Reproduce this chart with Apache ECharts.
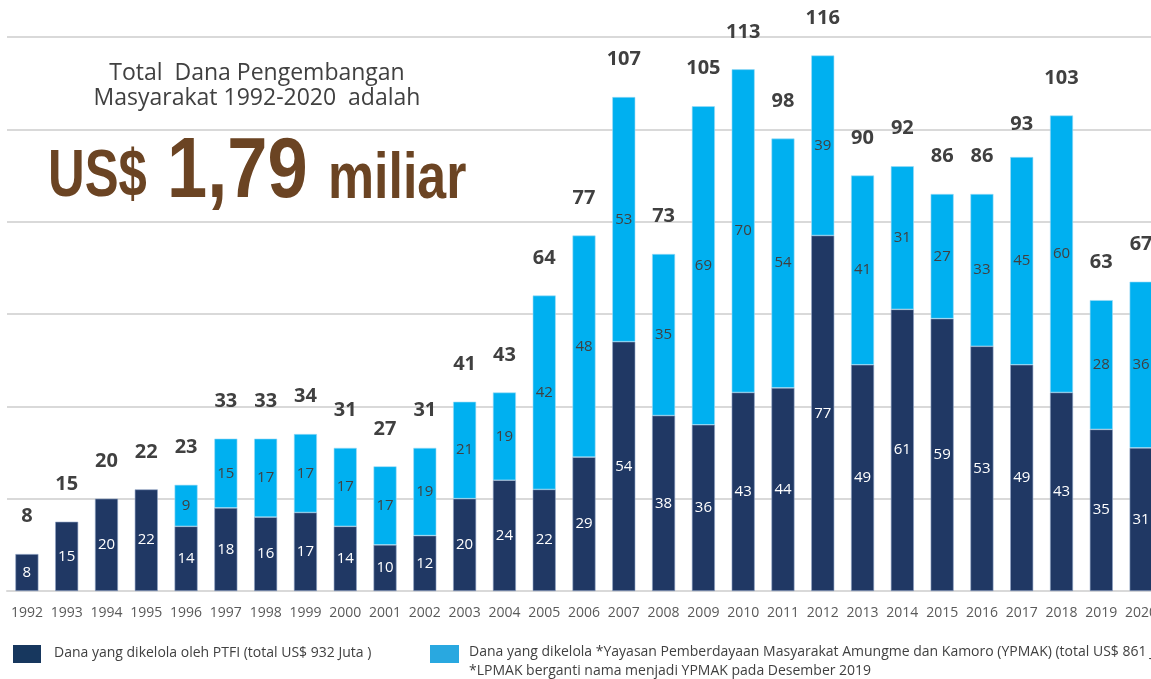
<!DOCTYPE html>
<html>
<head>
<meta charset="utf-8">
<script src="https://cdn.jsdelivr.net/npm/echarts@6/dist/echarts.min.js"></script>
<style>
  html, body { margin: 0; padding: 0; background: #fff; }
  #chart { width: 1151px; height: 679px; }
</style>
</head>
<body>
<div id="chart"></div>
<script>
var years = ['1992', '1993', '1994', '1995', '1996', '1997', '1998', '1999', '2000', '2001',
  '2002', '2003', '2004', '2005', '2006', '2007', '2008', '2009', '2010', '2011',
  '2012', '2013', '2014', '2015', '2016', '2017', '2018', '2019', '2020'];

// dana dikelola PTFI
var ptfi = [8, 15, 20, 22, 14, 18, 16, 17, 14, 10,
  12, 20, 24, 22, 29, 54, 38, 36, 43, 44,
  77, 49, 61, 59, 53, 49, 43, 35, 31];

// dana dikelola YPMAK (dulu LPMAK), belum ada sebelum 1996
var ypmak = [null, null, null, null, 9, 15, 17, 17, 17, 17,
  19, 21, 19, 42, 48, 53, 35, 69, 70, 54,
  39, 41, 31, 27, 33, 45, 60, 28, 36];

// total per tahun seperti tertulis di atas batang
var totals = [8, 15, 20, 22, 23, 33, 33, 34, 31, 27,
  31, 41, 43, 64, 77, 107, 73, 105, 113, 98,
  116, 90, 92, 86, 86, 93, 103, 63, 67];

var font = "'Open Sans', 'Noto Sans', sans-serif";
var bigFont = "'Liberation Sans', Arial, sans-serif";

var chart = echarts.init(document.getElementById('chart'));

var option = {
  animation: false,
  grid: {
    left: 7,
    top: 37,
    bottom: 88,
    width: 1154,  // tahun 2020 terpotong di tepi kanan
    outerBoundsMode: 'none',
    containLabel: false
  },
  xAxis: {
    type: 'category',
    data: years,
    axisTick: { show: false },
    axisLine: { lineStyle: { color: '#d9d9d9', width: 2 } },
    axisLabel: {
      color: '#595959',
      fontSize: 14,
      fontFamily: font,
      margin: 15,
      interval: 0
    }
  },
  yAxis: {
    type: 'value',
    min: 0,
    max: 120,
    interval: 20,
    axisLabel: { show: false },
    axisLine: { show: false },
    axisTick: { show: false },
    splitLine: { lineStyle: { color: '#d9d9d9', width: 2 } }
  },
  series: [
    {
      name: 'PTFI',
      type: 'bar',
      stack: 'dana',
      data: ptfi,
      barWidth: 23,
      itemStyle: { color: '#203864', borderColor: '#8ea3c4', borderWidth: 0.6 },
      label: {
        show: true,
        position: 'inside',
        color: '#ffffff',
        fontSize: 15,
        fontFamily: font
      }
    },
    {
      name: 'YPMAK',
      type: 'bar',
      stack: 'dana',
      data: ypmak,
      barWidth: 23,
      itemStyle: { color: '#00b0f0', borderColor: '#9fdcf5', borderWidth: 0.6 },
      label: {
        show: true,
        position: 'inside',
        color: '#404040',
        fontSize: 15,
        fontFamily: font
      }
    },
    {
      name: 'Total',
      type: 'line',
      data: totals,
      symbol: 'circle',
      symbolSize: 1,
      silent: true,
      itemStyle: { color: 'rgba(0,0,0,0)' },
      lineStyle: { opacity: 0 },
      label: {
        show: true,
        position: 'top',
        distance: 27,
        color: '#404040',
        fontSize: 20,
        fontWeight: 'bold',
        fontFamily: font
      },
      z: 5
    }
  ],
  graphic: [
    {
      type: 'text',
      x: 257,
      y: 61,
      style: {
        text: 'Total  Dana Pengembangan\nMasyarakat 1992-2020  adalah',
        fill: '#404040',
        font: '23px ' + font,
        lineHeight: 25,
        align: 'center',
        verticalAlign: 'top'
      }
    },
    {
      type: 'text',
      x: 48,
      y: 178,
      scaleX: 0.77,
      style: {
        text: 'US$',
        fill: '#6b4423',
        font: 'bold 66px ' + bigFont,
        align: 'left',
        verticalAlign: 'middle'
      }
    },
    {
      type: 'text',
      x: 167,
      y: 173,
      scaleX: 0.84,
      style: {
        text: '1,79',
        fill: '#6b4423',
        font: 'bold 86px ' + bigFont,
        align: 'left',
        verticalAlign: 'middle'
      }
    },
    {
      type: 'text',
      x: 328,
      y: 180,
      scaleX: 0.81,
      style: {
        text: 'miliar',
        fill: '#6b4423',
        font: 'bold 64px ' + bigFont,
        align: 'left',
        verticalAlign: 'middle'
      }
    },
    {
      type: 'rect',
      shape: { x: 13, y: 645, width: 28, height: 18 },
      style: { fill: '#17375e' }
    },
    {
      type: 'text',
      x: 54,
      y: 653,
      style: {
        text: 'Dana yang dikelola oleh PTFI (total US$ 932 Juta )',
        fill: '#404040',
        font: '14px ' + font,
        verticalAlign: 'middle'
      }
    },
    {
      type: 'rect',
      shape: { x: 430, y: 645, width: 29, height: 18 },
      style: { fill: '#29a8e0' }
    },
    {
      type: 'text',
      x: 469,
      y: 643,
      style: {
        text: 'Dana yang dikelola *Yayasan Pemberdayaan Masyarakat Amungme dan Kamoro (YPMAK) (total US$ 861 Juta)\n*LPMAK berganti nama menjadi YPMAK pada Desember 2019',
        fill: '#404040',
        font: '14px ' + font,
        lineHeight: 19,
        verticalAlign: 'top'
      }
    }
  ]
};

chart.setOption(option);
</script>
</body>
</html>
